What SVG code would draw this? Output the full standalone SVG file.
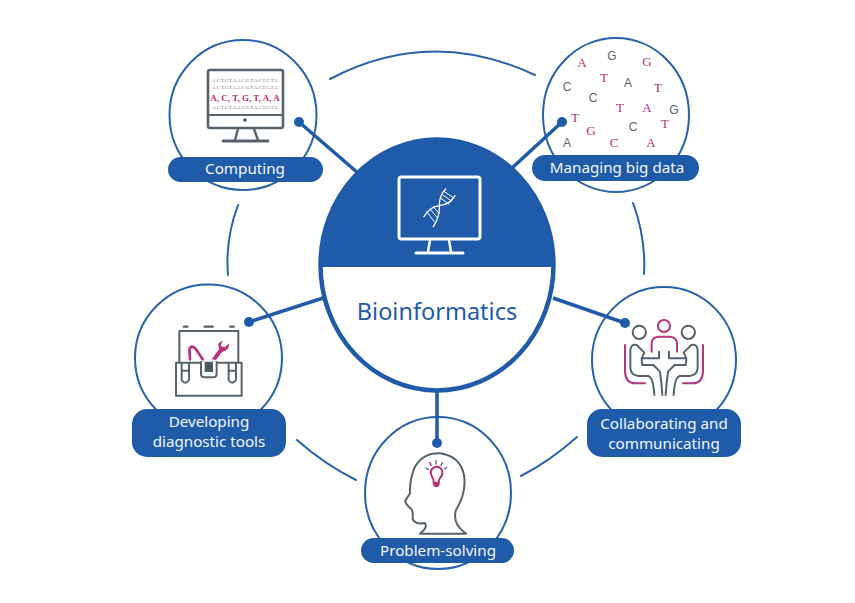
<svg xmlns="http://www.w3.org/2000/svg" width="855" height="603" viewBox="0 0 855 603">
<style>
.ring{fill:#fff;stroke:#2a62ab;stroke-width:2}
.arc{fill:none;stroke:#2a62ab;stroke-width:2;stroke-linecap:round}
.conn{stroke:#1f5ba8;stroke-width:3.500;fill:none}
.dot{fill:#1f5ba8}
.pill{fill:#1f5ba8}
.lab{font-family:"Noto Sans","Open Sans",sans-serif;font-size:15.200px;fill:#f2f6fb;text-anchor:middle}
.g{font-family:"Liberation Sans",sans-serif;font-size:12px;fill:#5b6670;text-anchor:middle}
.p{font-family:"Liberation Serif",serif;font-size:13px;fill:#b5307a;text-anchor:middle}
.sm{font-family:"Liberation Serif",serif;font-size:4.600px;fill:#8a5a75;text-anchor:middle}
.gl{fill:none;stroke:#56636e;stroke-linecap:round;stroke-linejoin:round}
.pk{fill:none;stroke:#b8327c;stroke-linecap:round;stroke-linejoin:round}
.wl{fill:none;stroke:#fff;stroke-linecap:round;stroke-linejoin:round}
</style>
<rect width="855" height="603" fill="#fff"/>
<g id="ring-arcs">
<path class="arc" d="M330 79Q430 26 535 75"/>
<path class="arc" d="M238 205Q225 240 228 275"/>
<path class="arc" d="M633 203Q646 238 644 274"/>
<path class="arc" d="M297 440Q324 464 356 480"/>
<path class="arc" d="M577 437Q550 461 521 476"/>
</g>
<g id="node-computing">
<ellipse class="ring" cx="243" cy="115" rx="73.500" ry="75"/>
<rect x="208" y="70" width="75" height="58" rx="2" fill="#fff" stroke="#56636e" stroke-width="2.600"/>
<path class="gl" stroke-width="2" d="M208 115H283"/>
<circle cx="245" cy="120" r="1.800" fill="#44505a"/>
<path class="gl" stroke-width="2.400" d="M238 129L235 140M254 129L258 140"/>
<path class="gl" stroke-width="2.800" d="M223 141H268"/>
<text class="sm" x="245" y="82">A.C.T.G.T.A.A.C.G.T.A.C.T.G.T.A</text>
<text class="sm" x="245" y="89">A.C.T.G.T.A.A.C.G.T.A.C.T.G.T.A</text>
<text x="245" y="101" font-family="Liberation Serif,serif" font-size="9" font-weight="bold" fill="#b5307a" text-anchor="middle">A, C, T, G, T, A, A</text>
<text class="sm" x="245" y="109">A.C.T.G.T.A.A.C.G.T.A.C.T.G.T.A</text>
<rect class="pill" x="168" y="157" width="155" height="25" rx="12.500"/>
<text class="lab" x="245" y="174">Computing</text>
</g>
<g id="node-managing">
<ellipse class="ring" cx="616" cy="115" rx="73" ry="77"/>
<text class="p" x="582" y="67">A</text><text class="g" x="612" y="60">G</text><text class="p" x="647" y="66">G</text>
<text class="p" x="604" y="82">T</text><text class="g" x="628" y="87">A</text><text class="p" x="658" y="92">T</text>
<text class="g" x="567" y="91">C</text><text class="g" x="593" y="102">C</text><text class="p" x="620" y="112">T</text>
<text class="p" x="647" y="112">A</text><text class="g" x="674" y="114">G</text><text class="p" x="575" y="122">T</text>
<text class="p" x="591" y="135">G</text><text class="g" x="633" y="131">C</text><text class="p" x="665" y="128">T</text>
<text class="g" x="567" y="147">A</text><text class="p" x="614" y="147">C</text><text class="p" x="651" y="147">A</text>
<rect class="pill" x="532" y="155" width="167" height="26" rx="13"/>
<text class="lab" x="617" y="173">Managing big data</text>
</g>
<g id="node-developing">
<circle class="ring" cx="208.500" cy="358" r="73.500"/>
<g transform="translate(130 300) scale(.3333)">
<path class="gl" stroke-width="7" d="M162 80H172M224 80H248M301 80H311"/>
<path class="gl" stroke-width="6" d="M148 185V93H325V185"/>
<path class="pk" stroke-width="8" d="M180 178L178 148Q185 132 198 148L218 178"/>
<path d="M245 178L268 146Q258 128 278 122L272 138L284 142L298 130Q298 152 276 156L258 180Z" fill="#b8327c"/>
<path class="gl" stroke-width="6" d="M138 188H335V287H138Z"/>
<path d="M215 186H258V235H215Z" fill="#fff"/>
<path class="gl" stroke-width="6" d="M213 186V222Q213 232 225 232H248Q260 232 260 222V186"/>
<rect x="224" y="186" width="25" height="30" fill="#4a5a66"/>
<path class="gl" stroke-width="6" d="M155 188V240Q166 256 177 240V188M155 212H177M296 188V240Q307 256 318 240V188M296 212H318"/>
</g>
<rect class="pill" x="132" y="409" width="154" height="48" rx="15"/>
<text class="lab" x="209" y="427">Developing</text>
<text class="lab" x="209" y="447">diagnostic tools</text>
</g>
<g id="node-collaborating">
<ellipse class="ring" cx="664" cy="360" rx="72" ry="73"/>
<g transform="translate(585 300) scale(.3333)">
<circle class="pk" stroke-width="6" cx="237" cy="78" r="18"/>
<path class="pk" stroke-width="6" d="M200 155V128Q202 112 220 110H255Q274 112 276 128V155"/>
<path class="pk" stroke-width="6" d="M120 135V215Q122 250 150 250H180M354 135V215Q352 250 324 250H294"/>
<circle class="gl" stroke-width="6" cx="163" cy="97" r="20"/>
<circle class="gl" stroke-width="6" cx="310" cy="97" r="20"/>
<path class="gl" stroke-width="6" d="M222 155V175H170L178 158L155 135Q138 130 136 150V205Q138 225 160 228H190Q205 232 208 285"/>
<path class="gl" stroke-width="6" d="M252 155V175H304L296 158L319 135Q336 130 338 150V205Q336 225 314 228H284Q269 232 266 285"/>
<path class="gl" stroke-width="6" d="M170 178L172 195H205L225 215Q230 250 232 285M304 178L302 195H269L249 215Q244 250 242 285"/>
</g>
<rect class="pill" x="587" y="409" width="154" height="48" rx="15"/>
<text class="lab" x="664" y="429">Collaborating and</text>
<text class="lab" x="664" y="449">communicating</text>
</g>
<g id="node-problem">
<ellipse class="ring" cx="438" cy="493" rx="73" ry="76"/>
<g transform="translate(360 430) scale(.3333)">
<path class="gl" stroke-width="6" d="M180 311Q205 292 194 279Q168 285 158 268Q160 248 155 238Q135 222 136 212L150 190Q148 150 165 110Q190 68 240 70Q300 78 312 135Q320 190 288 240Q275 280 318 311H180Z"/>
<path class="pk" stroke-width="6" d="M221 158Q222 148 216 140Q206 122 222 112Q238 106 246 120Q250 134 240 144Q236 150 236 158Z"/>
<path d="M218 158H240Q238 172 229 172Q220 172 218 158Z" fill="#b8327c"/>
<path class="pk" stroke-width="4" d="M209 98L214 106"/>
<path class="gl" stroke-width="4" d="M228 92V102M247 98L243 106M198 114L205 118M260 112L253 117"/>
</g>
<rect class="pill" x="361" y="538" width="153" height="25" rx="12.500"/>
<text class="lab" x="438" y="556">Problem-solving</text>
</g>
<g id="connectors">
<path class="conn" d="M299 122L358 173"/><circle class="dot" cx="299" cy="122" r="5"/>
<path class="conn" d="M562 122L512 168"/><circle class="dot" cx="562" cy="122" r="5"/>
<path class="conn" d="M249 322L323 298"/><circle class="dot" cx="249" cy="322" r="5"/>
<path class="conn" d="M625 323L553 298"/><circle class="dot" cx="625" cy="323" r="5"/>
<path class="conn" d="M437 390V443"/><circle class="dot" cx="437" cy="443" r="5"/>
</g>
<g id="node-bioinformatics">
<ellipse cx="437" cy="265" rx="116.500" ry="125.500" fill="#fff" stroke="#1f5ba8" stroke-width="4.500"/>
<path d="M319 267A118 127.500 0 1 1 555 267Z" fill="#1f5ba8"/>
<rect x="399" y="177" width="81" height="62" rx="2.500" class="wl" stroke-width="3"/>
<path class="wl" stroke-width="2.500" d="M430 240L428 252M449 240L451 252"/>
<path class="wl" stroke-width="3" d="M416 253H463"/>
<g transform="translate(380 165) scale(.3333)">
<path class="wl" stroke-width="4" d="M178 122Q150 125 132 155M178 122Q180 155 160 185M178 122Q178 90 197 72M178 122Q210 120 225 92"/>
<path class="wl" stroke-width="3" d="M140 140L163 170M150 132L172 158M160 126L178 146M183 100L207 118M188 90L215 108M193 80L220 98"/>
</g>
<text x="437" y="320" font-family="Noto Sans,Open Sans,sans-serif" font-size="23.500" fill="#1f5ba8" text-anchor="middle">Bioinformatics</text>
</g>
</svg>
